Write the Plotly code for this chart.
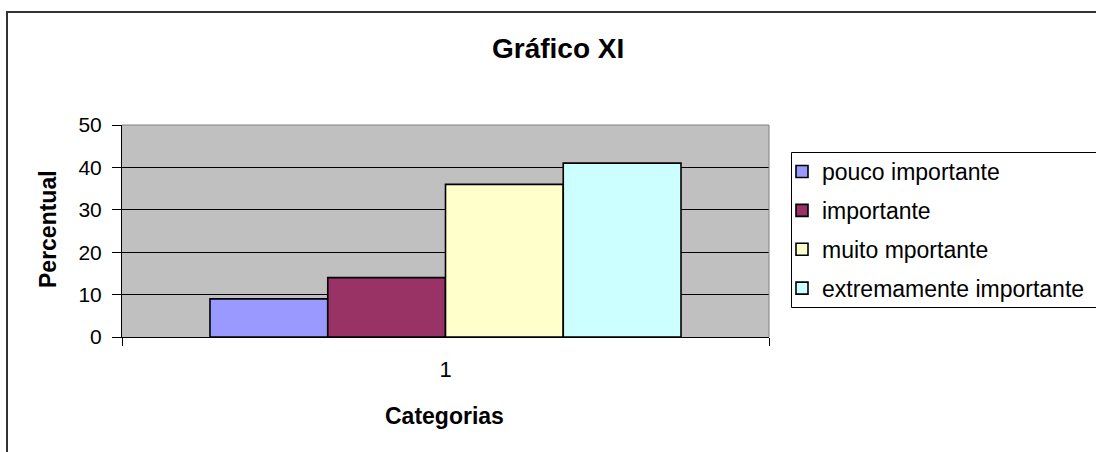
import plotly.graph_objects as go

categories = ["1"]
series_names = ["pouco importante", "importante", "muito mportante", "extremamente importante"]
series_values = [[9], [14], [36], [41]]
series_colors = ["#9999FF", "#993366", "#FFFFCC", "#CCFFFF"]
y_ticks = [0, 10, 20, 30, 40, 50]

W, H = 1096, 452
L, R, T, B = 122, 769, 125, 337  # plot area pixel bounds
pw, ph = R - L, B - T

def px(x):
    return (x - L) / pw

def py(y):
    return (B - y) / ph

FONT = "Liberation Sans, Arial, sans-serif"

fig = go.Figure()
for i, (name, vals, col) in enumerate(zip(series_names, series_values, series_colors)):
    fig.add_trace(go.Bar(
        x=categories, y=vals, name=name, legendgroup=f"g{i}",
        marker=dict(color=col, line=dict(color="black", width=1.6)),
    ))

fig.update_layout(
    width=W, height=H,
    margin=dict(l=L, r=W - R, t=T, b=H - B, autoexpand=False),
    paper_bgcolor="white",
    plot_bgcolor="#C0C0C0",
    barmode="group",
    bargap=0.272,
    bargroupgap=0,
    font=dict(family=FONT, color="black"),
    showlegend=True,
    legend=dict(
        x=px(782), y=py(150), xanchor="left", yanchor="top",
        bgcolor="rgba(0,0,0,0)", borderwidth=0,
        font=dict(family=FONT, size=23, color="black"),
        tracegroupgap=6,
        traceorder="grouped",
    ),
    xaxis=dict(
        type="category",
        showline=True, linecolor="black", linewidth=1,
        ticks="outside", ticklen=8, tickcolor="black", tickson="boundaries",
        tickfont=dict(size=22, family=FONT, color="black"),
        ticklabelstandoff=13,
        showgrid=False,
    ),
    yaxis=dict(
        range=[0, 50], tickvals=y_ticks,
        showline=True, linecolor="black", linewidth=1,
        ticks="outside", ticklen=9, tickcolor="black",
        tickfont=dict(size=21, family=FONT, color="black"),
        ticklabelstandoff=6,
        showgrid=True, gridcolor="black", gridwidth=1,
        zeroline=False,
    ),
    shapes=[
        dict(type="line", xref="paper", yref="paper", x0=0, x1=1, y0=1, y1=1,
             line=dict(color="#808080", width=1)),
        dict(type="line", xref="paper", yref="paper", x0=1, x1=1, y0=0, y1=1,
             line=dict(color="#808080", width=1)),
        dict(type="rect", xref="paper", yref="paper",
             x0=px(7), x1=px(1110), y0=py(470), y1=py(12),
             line=dict(color="#333333", width=2), fillcolor="rgba(0,0,0,0)", layer="below"),
        dict(type="rect", xref="paper", yref="paper",
             x0=px(791.5), x1=px(1120), y0=py(307.5), y1=py(152.5),
             line=dict(color="black", width=1), fillcolor="white", layer="above"),
    ],
    annotations=[
        dict(text="<b>Gráfico XI</b>", xref="paper", yref="paper", x=px(558), y=py(48),
             xanchor="center", yanchor="middle", showarrow=False,
             font=dict(family=FONT, size=28, color="black")),
        dict(text="<b>Percentual</b>", xref="paper", yref="paper", x=px(48), y=py(229),
             xanchor="center", yanchor="middle", showarrow=False, textangle=-90,
             font=dict(family=FONT, size=23, color="black")),
        dict(text="<b>Categorias</b>", xref="paper", yref="paper", x=px(444), y=py(416),
             xanchor="center", yanchor="middle", showarrow=False,
             font=dict(family=FONT, size=23, color="black")),
    ],
)

fig.write_html("out.html")
